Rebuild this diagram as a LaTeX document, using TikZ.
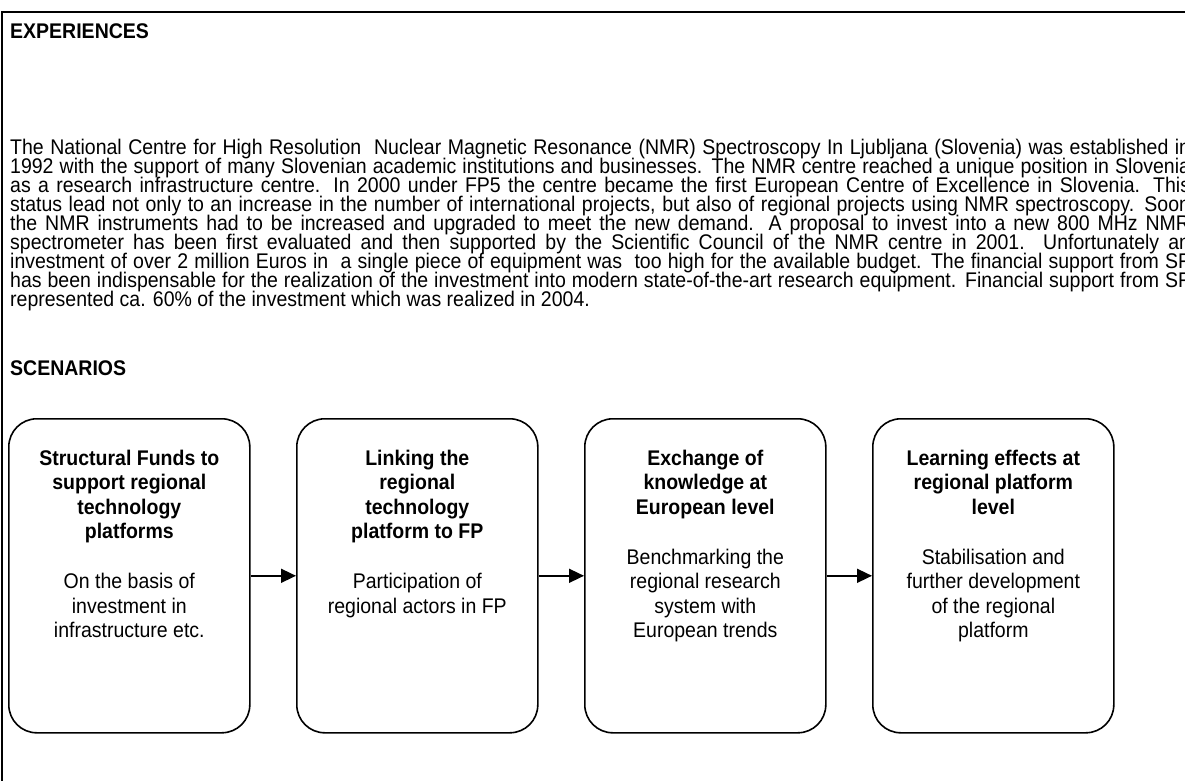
\documentclass[tikz,border=0pt]{standalone}
\usepackage{fontspec}
\setmainfont{Liberation Sans}[FakeStretch=0.92]
\usetikzlibrary{positioning,arrows.meta}
\newcommand{\jline}[1]{\makebox[1180pt][s]{#1}}
\newcommand{\boxfont}{\fontsize{21.2}{24.3}\selectfont\lineskiplimit=-50pt\relax}
\newcommand{\parafont}{\fontsize{21.2}{19}\selectfont\lineskiplimit=-50pt\relax}

\begin{document}
\begin{tikzpicture}[x=1pt, y=-1pt,
    scen/.style={draw, line width=1.6pt, rounded corners=28pt, minimum width=241pt, minimum height=314pt, anchor=north west, inner sep=0pt},
    scentext/.style={align=center, inner sep=0pt, font=\boxfont},
    flow/.style={line width=1.6pt, -{Triangle[length=15pt, width=14pt]}}
]
\useasboundingbox (0,0) rectangle (1185,781);

% frame
\draw[line width=2.4pt] (2,790) -- (2,12) -- (1195,12);

\node[anchor=base west, inner sep=0pt, font=\fontsize{21.2}{21.2}\selectfont\bfseries] (exp) at (10,39) {EXPERIENCES};

\node[anchor=base west, inner sep=0pt] (para) at (10,154) {\parbox[t]{1180pt}{\parafont
\jline{The National Centre for High Resolution\ \ Nuclear Magnetic Resonance (NMR) Spectroscopy In Ljubljana (Slovenia) was established in}\\
\jline{1992 with the support of many Slovenian academic institutions and businesses. The NMR centre reached a unique position in Slovenia}\\
\jline{as a research infrastructure centre. In 2000 under FP5 the centre became the first European Centre of Excellence in Slovenia. This}\\
\jline{status lead not only to an increase in the number of international projects, but also of regional projects using NMR spectroscopy. Soon}\\
\jline{the NMR instruments had to be increased and upgraded to meet the new demand. A proposal to invest into a new 800 MHz NMR}\\
\jline{spectrometer has been first evaluated and then supported by the Scientific Council of the NMR centre in 2001. Unfortunately an}\\
\jline{investment of over 2 million Euros in\ \ a single piece of equipment was\ \ too high for the available budget. The financial support from SF}\\
\jline{has been indispensable for the realization of the investment into modern state-of-the-art research equipment. Financial support from SF}\\
represented ca. 60\% of the investment which was realized in 2004.}};

\node[anchor=base west, inner sep=0pt, font=\fontsize{21.2}{21.2}\selectfont\bfseries] (scn) at (10,375) {SCENARIOS};

% scenario boxes
\node[scen] (s1) at (8,418) {};
\node[scen] (s2) at (296,418) {};
\node[scen] (s3) at (584,418) {};
\node[scen] (s4) at (872,418) {};

\node[scentext, below=32pt of s1.north] (t1) {\textbf{Structural Funds to}\\\textbf{support regional}\\\textbf{technology}\\\textbf{platforms}\\[26pt]On the basis of\\investment in\\infrastructure etc.};
\node[scentext, below=32pt of s2.north] (t2) {\textbf{Linking the}\\\textbf{regional}\\\textbf{technology}\\\textbf{platform to FP}\\[26pt]Participation of\\regional actors in FP};
\node[scentext, below=32pt of s3.north] (t3) {\textbf{Exchange of}\\\textbf{knowledge at}\\\textbf{European level}\\[26pt]Benchmarking the\\regional research\\system with\\European trends};
\node[scentext, below=32pt of s4.north] (t4) {\textbf{Learning effects at}\\\textbf{regional platform}\\\textbf{level}\\[26pt]Stabilisation and\\further development\\of the regional\\platform};

\draw[flow] (s1.east) -- (s2.west);
\draw[flow] (s2.east) -- (s3.west);
\draw[flow] (s3.east) -- (s4.west);

\end{tikzpicture}
\end{document}
